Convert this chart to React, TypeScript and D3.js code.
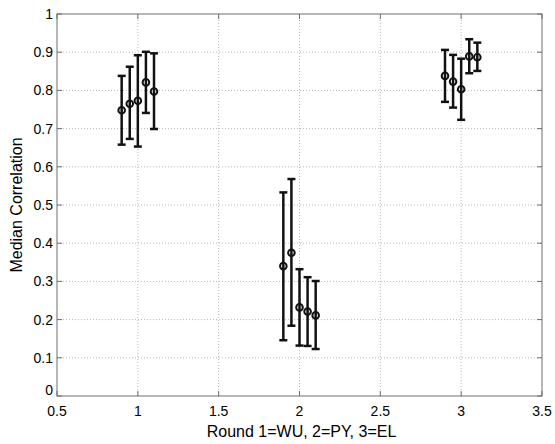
import React from "react";
import * as d3 from "d3";

const xPositions = [0.9, 0.95, 1.0, 1.05, 1.1, 1.9, 1.95, 2.0, 2.05, 2.1, 2.9, 2.95, 3.0, 3.05, 3.1];
const medians = [0.748, 0.765, 0.773, 0.821, 0.797, 0.34, 0.375, 0.232, 0.221, 0.211, 0.838, 0.823, 0.803, 0.889, 0.887];
const upper = [0.838, 0.862, 0.892, 0.901, 0.897, 0.533, 0.568, 0.332, 0.311, 0.301, 0.906, 0.893, 0.883, 0.934, 0.925];
const lower = [0.658, 0.673, 0.653, 0.741, 0.699, 0.146, 0.184, 0.132, 0.131, 0.123, 0.77, 0.755, 0.723, 0.845, 0.851];
const xTicks = [0.5, 1, 1.5, 2, 2.5, 3, 3.5];
const yTicks = [0, 0.1, 0.2, 0.3, 0.4, 0.5, 0.6, 0.7, 0.8, 0.9, 1];
const xLabel = "Round 1=WU, 2=PY, 3=EL";
const yLabel = "Median Correlation";

export default function App() {
  const W = 555, H = 444;
  const left = 57, right = 542, top = 14, bottom = 396;
  const x = d3.scaleLinear().domain([0.5, 3.5]).range([left, right]);
  const y = d3.scaleLinear().domain([0, 1]).range([bottom, top]);
  const font = "'Liberation Sans', Arial, Helvetica, sans-serif";
  const axisColor = "#6e6e6e";
  const gridColor = "#b8b8b8";
  const cap = 4;
  return (
    <svg width={W} height={H} style={{ position: "absolute", left: 0, top: 0, background: "#fff" }} fontFamily={font}>
      <rect x={0} y={0} width={W} height={H} fill="#fff" />
      {xTicks.slice(1, -1).map((t) => (
        <line key={"gx" + t} x1={x(t)} x2={x(t)} y1={top} y2={bottom} stroke={gridColor} strokeWidth={1} strokeDasharray="1,2" />
      ))}
      {yTicks.slice(1, -1).map((t) => (
        <line key={"gy" + t} x1={left} x2={right} y1={y(t)} y2={y(t)} stroke={gridColor} strokeWidth={1} strokeDasharray="1,2" />
      ))}
      <rect x={left} y={top} width={right - left} height={bottom - top} fill="none" stroke={axisColor} strokeWidth={1} />
      {xTicks.map((t) => (
        <g key={"tx" + t}>
          <line x1={x(t)} x2={x(t)} y1={bottom} y2={bottom - 5} stroke={axisColor} />
          <line x1={x(t)} x2={x(t)} y1={top} y2={top + 5} stroke={axisColor} />
          <text x={x(t)} y={bottom + 20} textAnchor="middle" fontSize={14} fill="#000">{String(t)}</text>
        </g>
      ))}
      {yTicks.map((t) => (
        <g key={"ty" + t}>
          <line x1={left} x2={left + 5} y1={y(t)} y2={y(t)} stroke={axisColor} />
          <line x1={right} x2={right - 5} y1={y(t)} y2={y(t)} stroke={axisColor} />
          <text x={left - 4} y={t === 0 ? y(t) - 1 : y(t) + 5} textAnchor="end" fontSize={14} fill="#000">{String(t)}</text>
        </g>
      ))}
      <text x={(left + right) / 2 + 2} y={437} textAnchor="middle" fontSize={16} fill="#000">{xLabel}</text>
      <text transform={`translate(22,${(top + bottom) / 2}) rotate(-90)`} textAnchor="middle" fontSize={16} fill="#000">{yLabel}</text>
      {xPositions.map((xv, i) => {
        const cx = x(xv);
        return (
          <g key={"e" + i} stroke="#111" fill="none">
            <line x1={cx} x2={cx} y1={y(lower[i])} y2={y(upper[i])} strokeWidth={2.5} />
            <line x1={cx - cap} x2={cx + cap} y1={y(lower[i])} y2={y(lower[i])} strokeWidth={2.5} />
            <line x1={cx - cap} x2={cx + cap} y1={y(upper[i])} y2={y(upper[i])} strokeWidth={2.5} />
            <circle cx={cx} cy={y(medians[i])} r={3.3} strokeWidth={2} fill="none" />
          </g>
        );
      })}
    </svg>
  );
}
